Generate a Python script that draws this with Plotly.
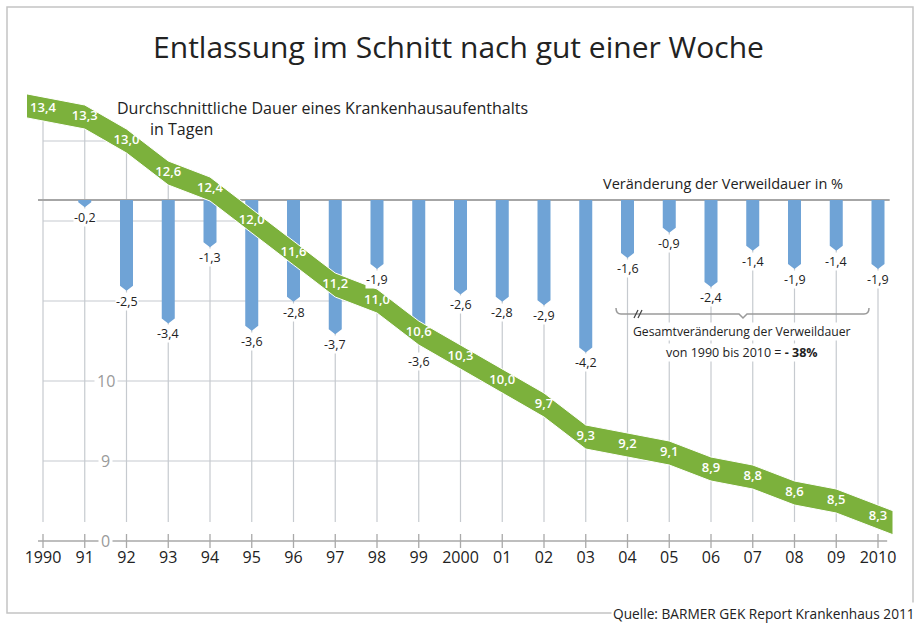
import plotly.graph_objects as go

# data
jahre = list(range(1990, 2011))
jahr_labels = ["1990", "91", "92", "93", "94", "95", "96", "97", "98", "99", "2000",
               "01", "02", "03", "04", "05", "06", "07", "08", "09", "2010"]
dauer_tage = [13.4, 13.3, 13.0, 12.6, 12.4, 12.0, 11.6, 11.2, 11.0, 10.6, 10.3,
              10.0, 9.7, 9.3, 9.2, 9.1, 8.9, 8.8, 8.6, 8.5, 8.3]
veraenderung_pct = [None, -0.2, -2.5, -3.4, -1.3, -3.6, -2.8, -3.7, -1.9, -3.6, -2.6,
                    -2.8, -2.9, -4.2, -1.6, -0.9, -2.4, -1.4, -1.9, -1.4, -1.9]
gitter_tage = [9, 10, 11, 12, 13]
achsen_labels = [(10, "10"), (9, "9"), (8, "0")]

W, H = 917, 623
PL, PR, PT, PB = 27, 895, 88, 550          # plot box in px
X0, XS = 43, 41.75                         # px of 1990, px per year
D10, DS = 381, 80                          # px of 10 days, px per day
Z0, PS = 200, 36.3                         # px of 0 %, px per %

xr = [1990 + (PL - X0) / XS, 1990 + (PR - X0) / XS]
yr = [10 - (PB - D10) / DS, 10 + (D10 - PT) / DS]
y2r = [-(PB - Z0) / PS, (Z0 - PT) / PS]
z_tage = 10 + (D10 - Z0) / DS              # zero line of % axis in day units
half = 12 / DS                             # half band thickness
grid_bottom = 10 - (522 - D10) / DS

GRID = "#c6cacf"
GREEN = "#7cb13c"
BLUE = "#6fa3d6"
FONT = "Open Sans"


def px_x(p):
    return (p - PL) / (PR - PL)


def px_y(p):
    return (PB - p) / (PB - PT)


def fmt(v):
    return f"{v:.1f}".replace(".", ",")


# band extended a little past first and last year
x_left, x_right = xr[0], 1990 + (893 - X0) / XS
v_left = dauer_tage[0] + (dauer_tage[0] - dauer_tage[1]) * (jahre[0] - x_left)
v_right = dauer_tage[-1] + (dauer_tage[-1] - dauer_tage[-2]) * (x_right - jahre[-1])
bx = [x_left] + jahre + [x_right]
bv = [v_left] + dauer_tage + [v_right]

fig = go.Figure()

# horizontal grid
hx, hy = [], []
for g in gitter_tage:
    hx += [jahre[0], jahre[-1], None]
    hy += [g, g, None]
fig.add_trace(go.Scatter(x=hx, y=hy, mode="lines", line=dict(color=GRID, width=1.2),
                         hoverinfo="skip", yaxis="y"))

# white mask above the band
fig.add_trace(go.Scatter(x=bx + bx[::-1], y=[v + half for v in bv] + [yr[1] + 1] * len(bx),
                         fill="toself", fillcolor="white", mode="lines",
                         line=dict(width=0, color="white"), hoverinfo="skip", yaxis="y"))

# vertical grid
vx, vy = [], []
for j, v in zip(jahre, dauer_tage):
    vx += [j, j, None]
    vy += [grid_bottom, max(v, z_tage), None]
fig.add_trace(go.Scatter(x=vx, y=vy, mode="lines", line=dict(color=GRID, width=1.2),
                         hoverinfo="skip", yaxis="y"))

# x axis line and ticks
tx, ty = [1989.88, 2010.22, None], [8, 8, None]
for j in jahre:
    tx += [j, j, None]
    ty += [8 - 7 / DS, 8 + 7 / DS, None]
fig.add_trace(go.Scatter(x=tx, y=ty, mode="lines", line=dict(color="#a9a9a9", width=1.3),
                         hoverinfo="skip", yaxis="y"))

# zero line of the % bars
fig.add_trace(go.Scatter(x=[1989.88, 2010.28], y=[0, 0], mode="lines",
                         line=dict(color="#a6a6a6", width=2), hoverinfo="skip", yaxis="y2"))

# bars with pointed tips
w = 13 / XS / 2
tip = 5 / PS
px_, py_ = [], []
for j, p in zip(jahre, veraenderung_pct):
    if p is None:
        continue
    knee = min(p + tip, 0)
    px_ += [j - w, j + w, j + w, j, j - w, j - w, None]
    py_ += [0, 0, knee, p, knee, 0, None]
fig.add_trace(go.Scatter(x=px_, y=py_, fill="toself", fillcolor=BLUE, mode="lines",
                         line=dict(width=0, color=BLUE), hoverinfo="skip", yaxis="y2"))

# green band
fig.add_trace(go.Scatter(x=bx + bx[::-1],
                         y=[v + half for v in bv] + [v - half for v in bv[::-1]],
                         fill="toself", fillcolor=GREEN, mode="lines",
                         line=dict(width=1, color="white"), hoverinfo="skip", yaxis="y3"))
fig.add_trace(go.Scatter(x=jahre, y=dauer_tage, mode="text",
                         text=[fmt(v) for v in dauer_tage],
                         textfont=dict(family=FONT, size=13, color="white", weight=600),
                         hoverinfo="skip", yaxis="y3"))

ann = []
for j, p, v in zip(jahre, veraenderung_pct, dauer_tage):
    if p is None:
        continue
    # push the label below the band when it would sit on it
    top = Z0 - p * PS + 1
    band_c = D10 - (v - 10) * DS
    shift = -1
    if top < band_c + 12 and top + 16 > band_c - 12:
        shift = -(band_c + 12 + 7 - (Z0 - p * PS))
    ann.append(dict(x=j, y=p, xref="x", yref="y2", text=fmt(p), showarrow=False,
                    yanchor="top", yshift=shift, bgcolor="white", borderpad=0,
                    font=dict(family=FONT, size=12.5, color="#222")))
for v, t in achsen_labels:
    ann.append(dict(x=1991.5, y=v, xref="x", yref="y", text=t, showarrow=False,
                    bgcolor="white", borderpad=2,
                    font=dict(family=FONT, size=16, color="#9a9a9a")))

ann += [
    dict(x=px_x(115), y=px_y(108), xref="paper", yref="paper", xanchor="left", yanchor="middle",
         text="Durchschnittliche Dauer eines Krankenhausaufenthalts", showarrow=False,
         font=dict(family=FONT, size=16, color="#222")),
    dict(x=px_x(148), y=px_y(129), xref="paper", yref="paper", xanchor="left", yanchor="middle",
         text="in Tagen", showarrow=False, font=dict(family=FONT, size=16, color="#222")),
    dict(x=px_x(601), y=px_y(183), xref="paper", yref="paper", xanchor="left", yanchor="middle",
         text="Veränderung der Verweildauer in %", showarrow=False,
         font=dict(family=FONT, size=14.5, color="#222")),
    dict(x=px_x(742), y=px_y(331), xref="paper", yref="paper", xanchor="center",
         yanchor="middle", text="Gesamtveränderung der Verweildauer", showarrow=False,
         bgcolor="white", borderpad=0, font=dict(family=FONT, size=12.2, color="#222")),
    dict(x=px_x(742), y=px_y(352), xref="paper", yref="paper", xanchor="center",
         yanchor="middle", text="von 1990 bis 2010 = <b>- 38%</b>", showarrow=False,
         bgcolor="white", borderpad=0, font=dict(family=FONT, size=12.5, color="#222")),
    dict(x=px_x(917), y=px_y(613), xref="paper", yref="paper", xanchor="right",
         yanchor="middle", text="Quelle: BARMER GEK Report Krankenhaus 2011", showarrow=False,
         bgcolor="white", borderpad=1, font=dict(family=FONT, size=13.7, color="#222")),
]

# bracket around 2004-2010
br = "#9a9a9a"
bracket = (f"M {px_x(616)},{px_y(308)} Q {px_x(616)},{px_y(314)} {px_x(621)},{px_y(314)} "
           f"L {px_x(739)},{px_y(314)} L {px_x(743)},{px_y(318)} L {px_x(747)},{px_y(314)} "
           f"L {px_x(864)},{px_y(314)} Q {px_x(869)},{px_y(314)} {px_x(869)},{px_y(308)}")
shapes = [
    dict(type="path", path=bracket, xref="paper", yref="paper", line=dict(color=br, width=1.5)),
    dict(type="line", xref="paper", yref="paper", x0=px_x(634), y0=px_y(318), x1=px_x(638),
         y1=px_y(310), line=dict(color="#444", width=1.2)),
    dict(type="line", xref="paper", yref="paper", x0=px_x(638), y0=px_y(318), x1=px_x(642),
         y1=px_y(310), line=dict(color="#444", width=1.2)),
    dict(type="rect", xref="paper", yref="paper", x0=px_x(7), y0=px_y(613), x1=px_x(913),
         y1=px_y(7), line=dict(color="#c4c4c4", width=1.5), layer="below"),
]

fig.update_layout(
    width=W, height=H,
    margin=dict(l=PL, r=W - PR, t=PT, b=H - PB),
    paper_bgcolor="white", plot_bgcolor="white",
    showlegend=False,
    title=dict(text="Entlassung im Schnitt nach gut einer Woche", x=0.5, xanchor="center",
               y=(H - 47) / H, yanchor="middle", yref="container",
               font=dict(family=FONT, size=30, color="#222")),
    xaxis=dict(range=xr, tickvals=jahre, ticktext=jahr_labels, showgrid=False,
               zeroline=False, showline=False, ticks="", ticklabelstandoff=-4,
               tickfont=dict(family=FONT, size=16, color="#222")),
    yaxis=dict(range=yr, visible=False),
    yaxis2=dict(range=y2r, overlaying="y", visible=False),
    yaxis3=dict(range=yr, overlaying="y", visible=False),
    annotations=ann,
    shapes=shapes,
)

# page has a default body margin; drop it so the figure sits at 0,0
fig.write_html("out.html", config={"displayModeBar": False},
               post_script="document.body.style.margin='0';")
